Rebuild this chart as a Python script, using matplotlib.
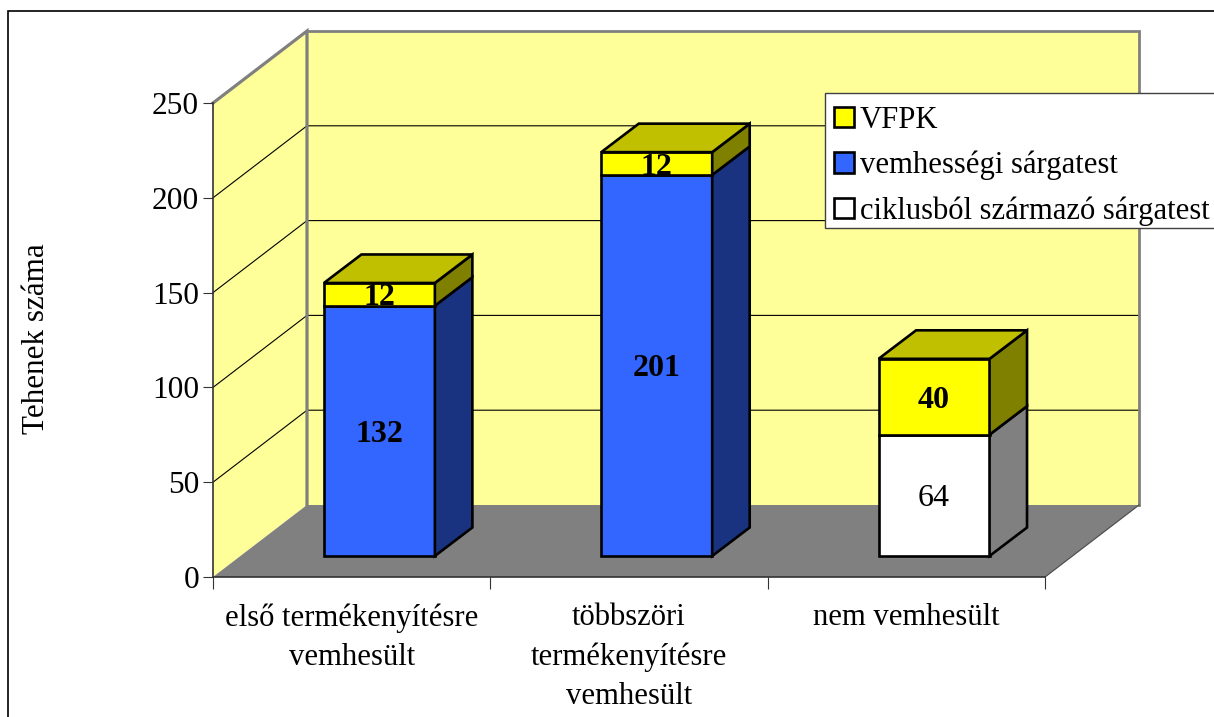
import matplotlib
matplotlib.use("Agg")
import matplotlib.pyplot as plt
from matplotlib.patches import Patch, Rectangle

plt.rcParams['font.family'] = ['Liberation Serif', 'DejaVu Serif']

categories = ["első termékenyítésre\nvemhesült", "többszöri\ntermékenyítésre\nvemhesült", "nem vemhesült"]
series_names = ["ciklusból származó sárgatest", "vemhességi sárgatest", "VFPK"]
ciklus = [0, 0, 64]
vemhessegi = [132, 201, 0]
vfpk = [12, 12, 40]
yticks = [0, 50, 100, 150, 200, 250]
ylabel = "Tehenek száma"

W, H = 1214, 717
fig = plt.figure(figsize=(W / 100, H / 100), dpi=100, facecolor='white')
ax = fig.add_axes([213 / W, (H - 577) / H, 832 / W, 474 / H], facecolor='none')
ax.set_xlim(0, 3)
ax.set_ylim(0, 250)

# oblique projection depth, in data units
DX, DY = 94 / 277.33, 72 / 1.896
BAR_DX, BAR_DY = 37.5 / 277.33, 28.5 / 1.896
OFF_DY = 21 / 1.896
BAR_L, BAR_W = 0.4, 0.4
LW = 1.9

fig.add_artist(Rectangle((8 / W, -0.05), 1.2, 1.05 - 11.5 / H, transform=fig.transFigure,
                         fill=False, edgecolor='black', linewidth=1.2))

WALL = '#FFFF99'
EDGE = '#808080'
ax.fill([0, DX, DX, 0], [0, DY, 250 + DY, 250], color=WALL, lw=0, clip_on=False, zorder=1)
ax.fill([DX, 3 + DX, 3 + DX, DX], [DY, DY, 250 + DY, 250 + DY], color=WALL, lw=0, clip_on=False, zorder=1)
ax.fill([0, 3, 3 + DX, DX], [0, 0, DY, DY], color=EDGE, lw=0, clip_on=False, zorder=1.2)

for v in yticks[1:-1]:
    ax.plot([0, DX, 3 + DX], [v, v + DY, v + DY], color='black', lw=0.8, clip_on=False, zorder=1.1)
ax.plot([0, DX, DX], [250, 250 + DY, DY], color=EDGE, lw=2.3, clip_on=False, zorder=1.3, solid_joinstyle='miter')
ax.plot([DX, 3 + DX, 3 + DX], [250 + DY, 250 + DY, DY], color=EDGE, lw=2.0, clip_on=False, zorder=1.1,
        solid_joinstyle='miter')
ax.plot([3, 3 + DX], [0, DY], color='#505050', lw=0.9, clip_on=False, zorder=1.3)

palette = {
    0: ('#FFFFFF', '#808080', '#C0C0C0'),
    1: ('#3366FF', '#1A3380', '#2A4DBF'),
    2: ('#FFFF00', '#808000', '#C0C000'),
}

for i in range(3):
    left = i + BAR_L
    bottom = OFF_DY
    stack = [ciklus[i], vemhessegi[i], vfpk[i]]
    top_idx = max(k for k, v in enumerate(stack) if v > 0)
    for k, v in enumerate(stack):
        if v == 0:
            continue
        front, side, top = palette[k]
        ax.bar(left, v, width=BAR_W, bottom=bottom, align='edge', facecolor=front,
               edgecolor='black', linewidth=LW, zorder=3, clip_on=False)
        r = left + BAR_W
        ax.fill([r, r + BAR_DX, r + BAR_DX, r],
                [bottom, bottom + BAR_DY, bottom + v + BAR_DY, bottom + v],
                facecolor=side, edgecolor='black', linewidth=LW, zorder=3, clip_on=False,
                joinstyle='miter')
        if k == top_idx:
            ax.fill([left, left + BAR_DX, r + BAR_DX, r],
                    [bottom + v, bottom + v + BAR_DY, bottom + v + BAR_DY, bottom + v],
                    facecolor=top, edgecolor='black', linewidth=LW, zorder=3, clip_on=False,
                    joinstyle='miter')
        ax.annotate(str(v), (left + BAR_W / 2, bottom + v / 2), xytext=(0, -2.5),
                    textcoords='offset points', ha='center', va='center',
                    fontsize=23, fontweight='normal' if k == 0 else 'bold', color='black',
                    zorder=4, annotation_clip=False)
        bottom += v

for s in ('top', 'right'):
    ax.spines[s].set_visible(False)
for s in ('left', 'bottom'):
    ax.spines[s].set_color('#333333')
    ax.spines[s].set_linewidth(1.2)
    ax.spines[s].set_zorder(2)

ax.set_yticks(yticks)
ax.set_yticklabels([str(v) for v in yticks], fontsize=22.6)
ax.tick_params(axis='y', length=7, width=0.8, color='#333333', pad=3)
ax.set_xticks([0, 1, 2, 3])
ax.set_xticklabels([])
ax.tick_params(axis='x', which='major', length=8.5, width=0.8, color='#333333')
ax.set_xticks([0.5, 1.5, 2.5], minor=True)
ax.set_xticklabels(categories, minor=True, fontsize=22.1, linespacing=1.45, va='top')
ax.tick_params(axis='x', which='minor', length=0, pad=18.8)

fig.text(37 / W, 1 - 339 / H, ylabel, rotation=90, ha='center', va='center', fontsize=22.4)

# legend frame, extending past the right edge as in the reference
fig.add_artist(Rectangle((825 / W, 1 - 228 / H), 400 / W, 135 / H, transform=fig.transFigure,
                         facecolor='white', edgecolor='#404040', linewidth=1.0, zorder=9))

handles = [Patch(facecolor=palette[k][0], edgecolor='black', linewidth=LW) for k in (2, 1, 0)]
labels = [series_names[2], series_names[1], series_names[0]]
leg = fig.legend(handles, labels, loc='upper left',
                 bbox_to_anchor=(821 / W, 1 - 93 / H), frameon=False,
                 fontsize=22.1, borderaxespad=0, borderpad=0.42, labelspacing=0.52, handlelength=0.65,
                 handleheight=0.65, handletextpad=0.2, alignment='left')
leg.set_zorder(10)

fig.savefig('out.png', dpi=100)
